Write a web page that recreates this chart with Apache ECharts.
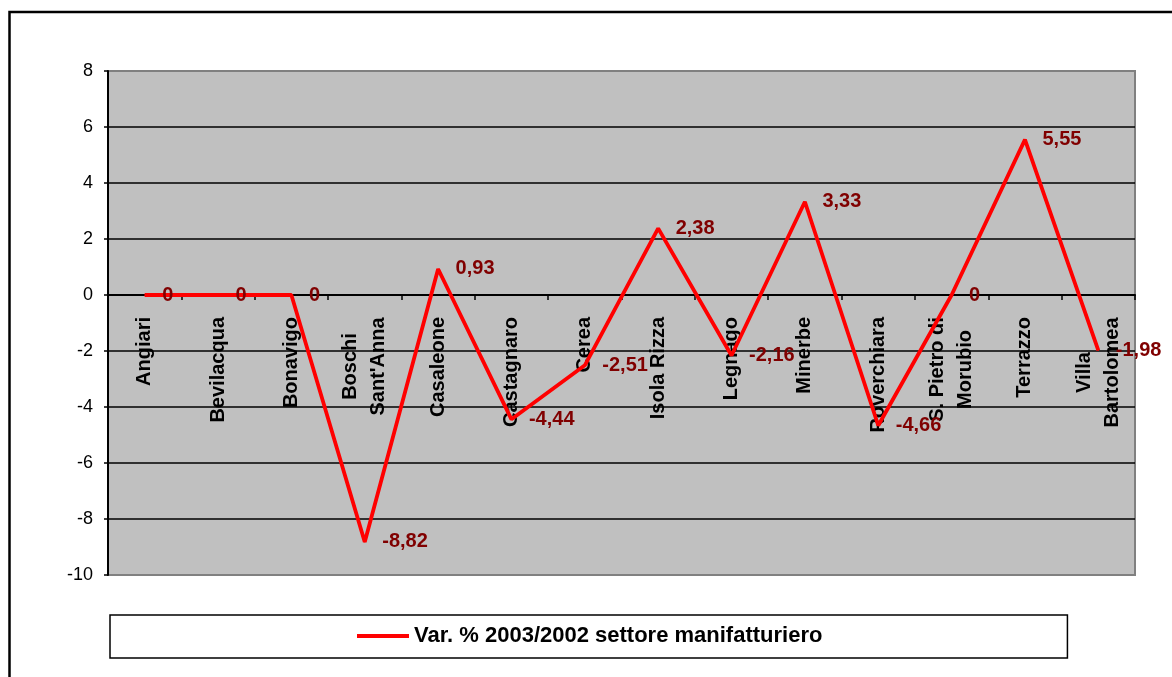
<!DOCTYPE html>
<html>
<head>
<meta charset="utf-8">
<title>Var. % 2003/2002 settore manifatturiero</title>
<script src="https://cdn.jsdelivr.net/npm/echarts@6/dist/echarts.min.js"></script>
<style>
  html, body { margin: 0; padding: 0; background: #fff; overflow: hidden; }
  #chart { width: 1172px; height: 677px; }
</style>
</head>
<body>
<div id="chart"></div>
<script>
// Comuni (two-line names use \n)
const categories = [
  'Angiari', 'Bevilacqua', 'Bonavigo', "Boschi\nSant'Anna", 'Casaleone',
  'Castagnaro', 'Cerea', 'Isola Rizza', 'Legnago', 'Minerbe',
  'Roverchiara', 'S. Pietro di\nMorubio', 'Terrazzo', 'Villa\nBartolomea'
];

// Var. % 2003/2002, manufacturing sector
const variation = [0, 0, 0, -8.82, 0.93, -4.44, -2.51, 2.38, -2.16, 3.33, -4.66, 0, 5.55, -1.98];

const seriesName = 'Var. % 2003/2002 settore manifatturiero';

// Value axis range and step
const yMin = -10;
const yMax = 8;
const yStep = 2;

const FONT = "'Liberation Sans', Arial, sans-serif";
const LABEL_FONT_SIZE = 20;

// Plot area margins
const GRID = { left: 108, right: 37, top: 71, bottom: 102 };
const CHART_H = 677;

// The category axis sits on the zero line: shift it up from the bottom edge
const plotH = CHART_H - GRID.top - GRID.bottom;
const zeroShift = plotH * (0 - yMin) / (yMax - yMin);

// Measure text so multi-line category labels can be centred line by line
const measureCtx = document.createElement('canvas').getContext('2d');
measureCtx.font = 'bold ' + LABEL_FONT_SIZE + 'px ' + FONT;
function textWidth(s) { return Math.ceil(measureCtx.measureText(s).width); }

const rich = {};
categories.forEach(function (c, i) {
  const lines = c.split('\n');
  if (lines.length > 1) {
    const w = Math.max.apply(null, lines.map(textWidth));
    rich['c' + i] = {
      width: w, align: 'center', lineHeight: 28,
      fontFamily: FONT, fontWeight: 'bold', fontSize: LABEL_FONT_SIZE, color: '#000'
    };
  }
});

const chart = echarts.init(document.getElementById('chart'), null, { renderer: 'canvas' });

chart.setOption({
  animation: false,
  backgroundColor: '#fff',
  textStyle: { fontFamily: FONT },
  graphic: [{
    type: 'rect',
    silent: true,
    shape: { x: 9.5, y: 12, width: 1300, height: 800 },
    style: { fill: 'none', stroke: '#000', lineWidth: 2.5 },
    z: 100
  }],
  grid: {
    left: GRID.left, right: GRID.right, top: GRID.top, bottom: GRID.bottom,
    containLabel: false,
    outerBoundsMode: 'none',
    show: true,
    backgroundColor: '#C0C0C0',
    borderColor: '#808080',
    borderWidth: 2
  },
  legend: {
    data: [seriesName],
    left: 110,
    top: 615,
    padding: [10, 245, 11, 247],
    backgroundColor: '#fff',
    borderColor: '#000',
    borderWidth: 1.5,
    icon: 'rect',
    itemWidth: 52,
    itemHeight: 4,
    textStyle: { fontFamily: FONT, fontWeight: 'bold', fontSize: 22, color: '#000' }
  },
  xAxis: {
    type: 'category',
    data: categories,
    boundaryGap: true,
    offset: -zeroShift,
    axisLine: { onZero: false, lineStyle: { color: '#000', width: 2 } },
    axisTick: { show: true, length: 5, lineStyle: { color: '#000', width: 1.5 } },
    axisLabel: {
      interval: 0,
      rotate: 90,
      margin: 22,
      fontFamily: FONT,
      fontWeight: 'bold',
      fontSize: LABEL_FONT_SIZE,
      color: '#000',
      lineHeight: 28,
      rich: rich,
      formatter: function (value, index) {
        const lines = value.split('\n');
        if (lines.length === 1) return value;
        return lines.map(function (l) { return '{c' + index + '|' + l + '}'; }).join('\n');
      }
    },
    splitLine: { show: false }
  },
  yAxis: {
    type: 'value',
    min: yMin,
    max: yMax,
    interval: yStep,
    axisLine: { show: true, lineStyle: { color: '#000', width: 2 } },
    axisTick: { show: true, length: 4, lineStyle: { color: '#000', width: 1.5 } },
    axisLabel: { margin: 15, fontFamily: FONT, fontSize: 18, color: '#000' },
    splitLine: {
      show: true,
      showMinLine: false,
      showMaxLine: false,
      lineStyle: { color: '#000', width: 1.5 }
    }
  },
  series: [{
    name: seriesName,
    type: 'line',
    data: variation,
    smooth: false,
    symbol: 'circle',
    symbolSize: 1,
    showSymbol: true,
    itemStyle: { color: '#FF0000' },
    lineStyle: { color: '#FF0000', width: 3.8 },
    label: {
      show: true,
      position: 'right',
      distance: 17,
      fontFamily: FONT,
      fontWeight: 'bold',
      fontSize: 20,
      color: '#800000',
      formatter: function (p) { return String(p.value).replace('.', ','); }
    },
    z: 3
  }]
});
</script>
</body>
</html>
